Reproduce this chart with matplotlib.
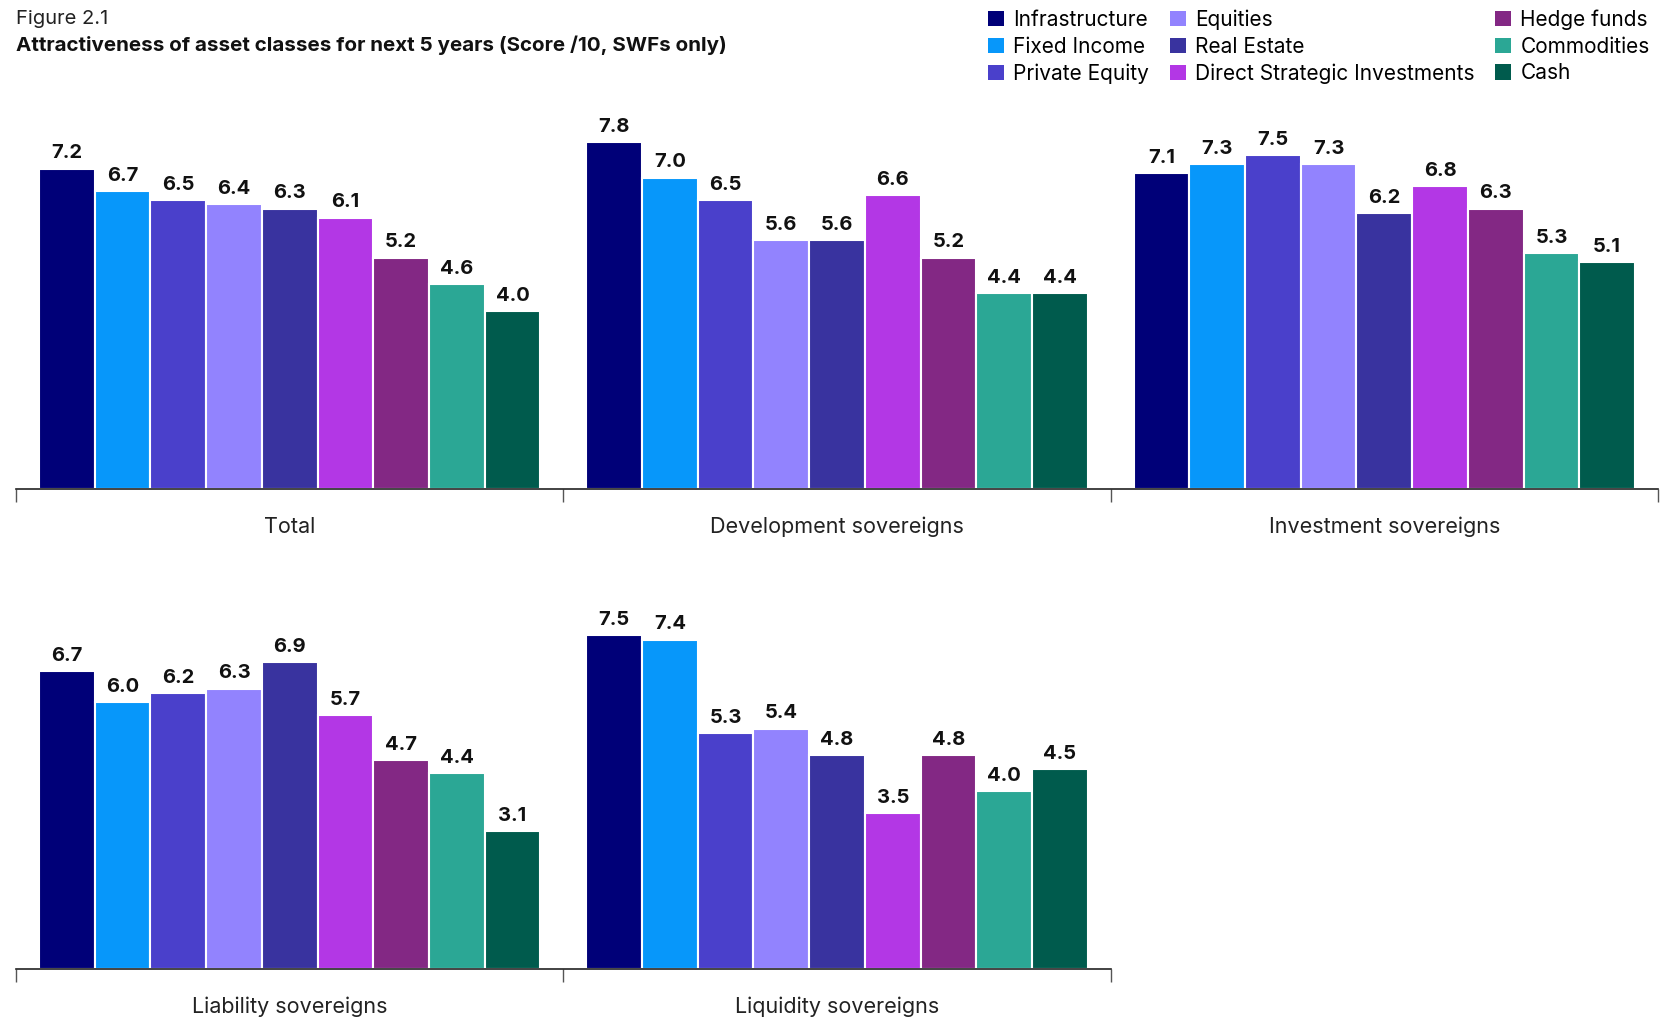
import numpy as np
import matplotlib
matplotlib.use("Agg")
import matplotlib.pyplot as plt
from matplotlib.patches import Patch

plt.rcParams['font.family'] = ['Inter', 'DejaVu Sans']

# asset classes and their colours
assets = ["Infrastructure", "Fixed Income", "Private Equity", "Equities", "Real Estate",
          "Direct Strategic Investments", "Hedge funds", "Commodities", "Cash"]
colors = ["#000078", "#0797FA", "#4A40CB", "#9283FE", "#39339F",
          "#B337E5", "#832884", "#2BA795", "#005B4D"]

# groups (one row of the figure each)
top_groups = ["Total", "Development sovereigns", "Investment sovereigns"]
bottom_groups = ["Liability sovereigns", "Liquidity sovereigns"]

total = [7.2, 6.7, 6.5, 6.4, 6.3, 6.1, 5.2, 4.6, 4.0]
development = [7.8, 7.0, 6.5, 5.6, 5.6, 6.6, 5.2, 4.4, 4.4]
investment = [7.1, 7.3, 7.5, 7.3, 6.2, 6.8, 6.3, 5.3, 5.1]
liability = [6.7, 6.0, 6.2, 6.3, 6.9, 5.7, 4.7, 4.4, 3.1]
liquidity = [7.5, 7.4, 5.3, 5.4, 4.8, 3.5, 4.8, 4.0, 4.5]

W, H = 1670, 1017
fig = plt.figure(figsize=(W / 100, H / 100), dpi=100)

left_px, right_px = 16, 1658
top_w = right_px - left_px
ymax = 9.0
ax_h = ymax * 44.5


def draw_row(ax, groups, values):
    n = len(assets)
    bw = 0.916 / n
    x = np.arange(len(groups))
    for i in range(n):
        xs = x - 0.458 + bw * (i + 0.5)
        vals = [v[i] for v in values]
        ax.bar(xs, vals, width=bw, color=colors[i], edgecolor="white", linewidth=1.5)
        for xi, v in zip(xs, vals):
            ax.text(xi, v + 0.14, f"{v:.1f}", ha="center", va="bottom",
                    fontsize=14.5, fontweight="bold", color="#111111")
    ax.set_xlim(-0.5, len(groups) - 0.5)
    ax.set_ylim(0, ymax)
    for s in ["top", "right", "left"]:
        ax.spines[s].set_visible(False)
    ax.spines["bottom"].set_color("#222222")
    ax.spines["bottom"].set_linewidth(1.2)
    ax.set_yticks([])
    ax.set_xticks(np.arange(len(groups) + 1) - 0.5)
    ax.set_xticklabels([])
    ax.tick_params(axis="x", which="major", length=9.5, width=1, color="#555555")
    ax.set_xticks(x, minor=True)
    ax.set_xticklabels(groups, minor=True, fontsize=15.5, color="#222222")
    ax.tick_params(axis="x", which="minor", length=0, pad=20)


ax1 = fig.add_axes([left_px / W, 1 - 489 / H, top_w / W, ax_h / H])
draw_row(ax1, top_groups, [total, development, investment])

ax2 = fig.add_axes([left_px / W, 1 - 969 / H, top_w * 2 / 3 / W, ax_h / H])
draw_row(ax2, bottom_groups, [liability, liquidity])

fig.text(16 / W, 1 - 19 / H, "Figure 2.1", fontsize=14.5, va="center", color="#222222")
fig.text(16 / W, 1 - 45 / H, "Attractiveness of asset classes for next 5 years (Score /10, SWFs only)",
         fontsize=14.8, fontweight="bold", va="center", color="#111111")

handles = [Patch(facecolor=c, edgecolor="none") for c in colors]
fig.legend(handles, assets, loc="upper right", bbox_to_anchor=(1660 / W, 1 + 1 / H),
           ncol=3, frameon=False, fontsize=15, handlelength=0.75, handleheight=0.75,
           handletextpad=0.45, columnspacing=1.0, labelspacing=0.32, borderpad=0)

fig.savefig("out.png", dpi=100)
